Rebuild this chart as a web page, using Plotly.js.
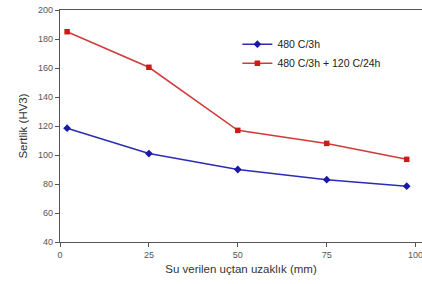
<!DOCTYPE html>
<html><head><meta charset="utf-8">
<script src="https://cdn.plot.ly/plotly-3.0.1.min.js"></script>
<style>html,body{margin:0;padding:0;background:#fff;}#chart{width:422px;height:284px;}</style>
</head><body><div id="chart"></div>
<script>
const distance = [2, 25, 50, 75, 97.5];
const hv_480_3h = [118.5, 101, 90, 83, 78.5];
const hv_480_3h_120_24h = [185, 160.5, 117, 108, 97];
const seriesNames = ['480 C/3h', '480 C/3h + 120 C/24h'];
const xTicks = [0, 25, 50, 75, 100];
const yTicks = [40, 60, 80, 100, 120, 140, 160, 180, 200];

const traces = [
  {x: distance, y: hv_480_3h, name: seriesNames[0], mode: 'lines+markers',
   line: {color: '#2b2bb5', width: 1.5}, marker: {symbol: 'diamond', size: 6, color: '#1a1aa8'}},
  {x: distance, y: hv_480_3h_120_24h, name: seriesNames[1], mode: 'lines+markers',
   line: {color: '#d23a3a', width: 1.5}, marker: {symbol: 'square', size: 5.5, color: '#d01818'}}
];
const layout = {
  width: 422, height: 284,
  margin: {l: 60, r: 0, t: 10, b: 42},
  paper_bgcolor: '#fff', plot_bgcolor: '#fff',
  font: {family: 'Liberation Sans, Arial, sans-serif', color: '#444'},
  showlegend: true,
  legend: {x: 0.49, y: 0.915, xanchor: 'left', yanchor: 'top', bgcolor: 'rgba(0,0,0,0)',
    font: {size: 10.5, color: '#222'}, itemwidth: 30, tracegroupgap: 0},
  xaxis: {range: [0, 101.8], tickvals: xTicks, ticks: 'outside', ticklen: 4, tickcolor: '#555',
    showline: true, linecolor: '#555', linewidth: 1.2, mirror: true, showgrid: false, zeroline: false,
    ticklabeloverflow: 'allow',
    tickfont: {size: 9, color: '#555'},
    title: {text: 'Su verilen uçtan uzaklık (mm)', font: {size: 11.5, color: '#333'}, standoff: 6}},
  yaxis: {range: [40, 200], tickvals: yTicks, ticks: 'outside', ticklen: 4, tickcolor: '#555',
    showline: true, linecolor: '#555', linewidth: 1.2, showgrid: false, zeroline: false,
    tickfont: {size: 9, color: '#555'},
    title: {text: 'Sertlik (HV3)', font: {size: 11.5, color: '#333'}, standoff: 8}}
};
Plotly.newPlot('chart', traces, layout, {displayModeBar: false, staticPlot: true});
</script></body></html>
